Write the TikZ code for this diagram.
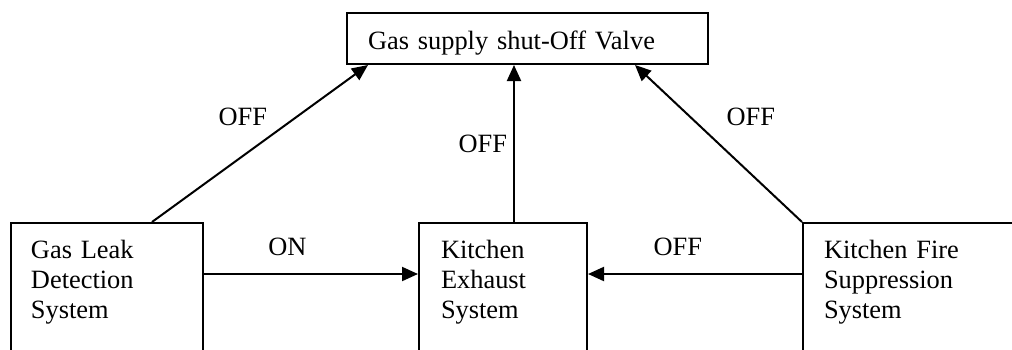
\documentclass[tikz,border=0pt]{standalone}
\usepackage{fontspec}
\setmainfont{Liberation Serif}
\usetikzlibrary{arrows.meta}
\begin{document}
\begin{tikzpicture}[x=0.5pt,y=-0.5pt,
  font=\fontsize{13.2}{15}\selectfont,
  box/.style={draw, line width=1pt, anchor=north west, align=left, inner xsep=10pt, inner ysep=0pt},
  sys/.style={box, text height=17.5pt, text depth=100pt},
  arr/.style={-{Triangle[length=8pt,width=7pt]}, line width=1pt},
  lbl/.style={inner sep=0pt}]
\useasboundingbox (0,0) rectangle (1012,349);
\clip (0,0) rectangle (1012,349);
%\draw[help lines, color=gray!30, dashed] (0,0) grid[step=50] (1012,349);
\node[box, text width=159.5pt, inner xsep=10.5pt, text height=18pt, text depth=7.5pt] (valve) at (346,12) {Gas supply shut-Off Valve};
\node[sys, text width=76pt] (leak) at (10,222) {Gas Leak\\Detection\\System};
\node[sys, text width=62pt, inner xsep=11pt] (exhaust) at (418,222) {Kitchen\\Exhaust\\System};
\node[sys, text width=100pt, inner xsep=10.5pt] (fire) at (802,222) {Kitchen Fire\\Suppression\\System};
\draw[arr] ([xshift=71pt]leak.north west) -- node[lbl, pos=.667, left=14pt] {OFF} ([xshift=11pt]valve.south west);
\draw[arr] ([xshift=48pt]exhaust.north west) -- node[lbl, left=3pt] {OFF} ([xshift=84pt]valve.south west);
\draw[arr] (fire.north west) -- node[lbl, pos=.667, right=17.5pt] {OFF} ([xshift=144.5pt]valve.south west);
\draw[arr] ([yshift=-26pt]leak.north east) -- node[lbl, pos=.39, above=8.5pt] {ON} ([yshift=-26pt]exhaust.north west);
\draw[arr] ([yshift=-26pt]fire.north west) -- node[lbl, pos=.58, above=8.5pt] {OFF} ([yshift=-26pt]exhaust.north east);
\end{tikzpicture}
\end{document}
